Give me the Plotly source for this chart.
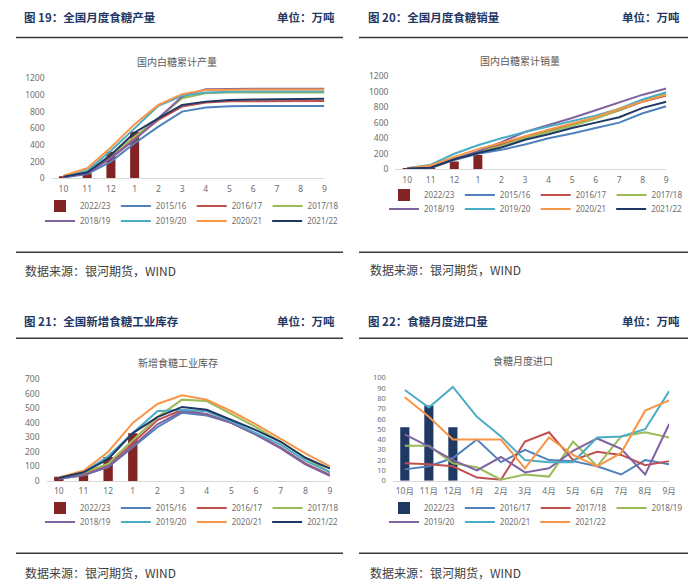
import plotly.graph_objects as go

# ---------------- data ----------------
months = ["10", "11", "12", "1", "2", "3", "4", "5", "6", "7", "8", "9"]
months_cn = ["10月", "11月", "12月", "1月", "2月", "3月", "4月", "5月", "6月", "7月", "8月", "9月"]

seasons = ["2015/16", "2016/17", "2017/18", "2018/19", "2019/20", "2020/21", "2021/22"]
import_seasons = ["2016/17", "2017/18", "2018/19", "2019/20", "2020/21", "2021/22"]
current_season = "2022/23"

# Chart 19: cumulative production (万吨)
prod_2223 = [20, 60, 320, 560]
prod_1516 = [10, 50, 200, 420, 620, 800, 850, 865, 867, 867, 867, 867]
prod_1617 = [15, 60, 250, 480, 700, 860, 910, 925, 928, 929, 929, 929]
prod_1718 = [20, 70, 280, 500, 720, 960, 1020, 1030, 1031, 1031, 1031, 1031]
prod_1819 = [15, 60, 240, 460, 720, 980, 1070, 1076, 1076, 1076, 1076, 1076]
prod_1920 = [25, 90, 330, 600, 870, 990, 1030, 1040, 1041, 1041, 1041, 1041]
prod_2021 = [30, 120, 370, 650, 880, 1010, 1060, 1066, 1067, 1067, 1067, 1067]
prod_2122 = [20, 70, 280, 550, 720, 880, 920, 940, 946, 950, 954, 956]

# Chart 20: cumulative sales (万吨)
sales_2223 = [8, 15, 100, 185]
sales_1516 = [5, 15, 120, 200, 250, 320, 400, 460, 530, 600, 720, 810]
sales_1617 = [10, 30, 130, 230, 330, 420, 500, 580, 660, 760, 870, 950]
sales_1718 = [10, 30, 130, 230, 300, 400, 480, 560, 650, 760, 880, 970]
sales_1819 = [10, 30, 130, 230, 350, 480, 570, 660, 760, 860, 960, 1040]
sales_1920 = [15, 60, 200, 310, 400, 480, 550, 620, 690, 780, 900, 990]
sales_2021 = [15, 50, 160, 260, 340, 430, 510, 590, 670, 780, 870, 960]
sales_2122 = [10, 20, 130, 210, 280, 380, 450, 530, 600, 670, 790, 870]

# Chart 21: new industrial inventory (万吨)
inv_2223 = [30, 40, 165, 328]
inv_1516 = [15, 40, 95, 230, 370, 470, 450, 400, 320, 230, 120, 40]
inv_1617 = [20, 45, 110, 260, 420, 490, 460, 400, 320, 230, 120, 40]
inv_1718 = [20, 55, 120, 280, 440, 560, 550, 460, 370, 270, 160, 60]
inv_1819 = [15, 40, 100, 240, 390, 480, 460, 400, 320, 225, 115, 35]
inv_1920 = [20, 60, 170, 330, 480, 490, 480, 410, 330, 250, 140, 60]
inv_2021 = [25, 70, 200, 400, 530, 590, 560, 480, 390, 290, 190, 100]
inv_2122 = [20, 60, 150, 330, 440, 510, 490, 420, 350, 270, 160, 85]

# Chart 22: monthly imports (万吨)
imp_2223 = [52, 73, 52]
imp_1617 = [11, 14, 22, 40, 18, 30, 20, 19, 14, 6, 20, 16]
imp_1718 = [17, 16, 14, 3, 1, 38, 47, 20, 28, 25, 15, 19]
imp_1819 = [34, 34, 17, 13, 1, 6, 4, 38, 14, 43, 47, 42]
imp_1920 = [45, 33, 20, 10, 23, 8, 12, 29, 41, 31, 6, 55]
imp_2021 = [88, 71, 91, 62, 43, 20, 18, 18, 42, 43, 50, 87]
imp_2122 = [81, 62, 40, 40, 40, 12, 42, 25, 14, 27, 68, 78]

# ---------------- styles ----------------
PAGE_W, PAGE_H = 700, 585
OFF = 8                      # default page body margin of the html page
W, H = PAGE_W - OFF, PAGE_H - OFF
LINE_COLORS = ["#4F81BD", "#C0504D", "#9BBB59", "#8064A2", "#4BACC6", "#F79646", "#1F3864"]
IMP_COLORS = ["#4F81BD", "#C0504D", "#9BBB59", "#8064A2", "#4BACC6", "#F79646"]
BAR_RED = "#822424"
BAR_NAVY = "#1F3864"
TICK_FONT = dict(family="Noto Sans, Noto Sans CJK SC", size=8.5, color="#6E6E6E")
LEG_FONT = dict(family="Noto Sans", size=8, color="#6E6E6E")
HEAD_COLOR = "#1F3864"


def px(x):
    return (x - OFF) / W


def py(y):
    return 1 - (y - OFF) / H


fig = go.Figure()


def add_panel(idx, cats, bar_vals, bar_color, line_sets, line_names, colors, leg_a, leg_b, split):
    xa = "x" if idx == 1 else f"x{idx}"
    ya = "y" if idx == 1 else f"y{idx}"
    fig.add_trace(go.Bar(x=cats[:len(bar_vals)], y=bar_vals, name=current_season,
                         marker=dict(color=bar_color, line=dict(width=0)), width=0.38,
                         xaxis=xa, yaxis=ya, legend=leg_a, hoverinfo="skip"))
    for i, (vals, nm, col) in enumerate(zip(line_sets, line_names, colors)):
        fig.add_trace(go.Scatter(x=cats, y=vals, name=nm, mode="lines",
                                 line=dict(color=col, width=2),
                                 xaxis=xa, yaxis=ya,
                                 legend=leg_a if i < split else leg_b, hoverinfo="skip"))


add_panel(1, months, prod_2223, BAR_RED,
          [prod_1516, prod_1617, prod_1718, prod_1819, prod_1920, prod_2021, prod_2122],
          seasons, LINE_COLORS, "legend", "legend2", 3)
add_panel(2, months, sales_2223, BAR_RED,
          [sales_1516, sales_1617, sales_1718, sales_1819, sales_1920, sales_2021, sales_2122],
          seasons, LINE_COLORS, "legend3", "legend4", 3)
add_panel(3, months, inv_2223, BAR_RED,
          [inv_1516, inv_1617, inv_1718, inv_1819, inv_1920, inv_2021, inv_2122],
          seasons, LINE_COLORS, "legend5", "legend6", 3)
add_panel(4, months_cn, imp_2223, BAR_NAVY,
          [imp_1617, imp_1718, imp_1819, imp_1920, imp_2021, imp_2122],
          import_seasons, IMP_COLORS, "legend7", "legend8", 3)

# ---------------- axes ----------------
panels = {
    1: dict(xd=(51.6, 324.4), yd=(178.3, 78.3), rng=(0, 1200), dt=200, fs=8.5),
    2: dict(xd=(395.4, 666.3), yd=(169.3, 76.0), rng=(0, 1200), dt=200, fs=8.5),
    3: dict(xd=(46.5, 330.0), yd=(481.0, 379.3), rng=(0, 700), dt=100, fs=8.5),
    4: dict(xd=(392.8, 669.2), yd=(480.7, 377.7), rng=(0, 100), dt=10, fs=7.5),
}
layout_axes = {}
for i, p in panels.items():
    sx = "" if i == 1 else str(i)
    layout_axes[f"xaxis{sx}"] = dict(
        domain=[px(p["xd"][0]), px(p["xd"][1])], anchor=f"y{sx}", type="category",
        showline=True, linecolor="#D9D9D9", linewidth=1, showgrid=False, zeroline=False,
        ticks="", tickfont=TICK_FONT, ticklabelstandoff=2, fixedrange=True, automargin=False)
    layout_axes[f"yaxis{sx}"] = dict(
        domain=[py(p["yd"][0]), py(p["yd"][1])], anchor=f"x{sx}", range=list(p["rng"]),
        dtick=p["dt"], showline=False, showgrid=False, zeroline=False, ticks="",
        tickfont=dict(TICK_FONT, size=p["fs"]), ticklabelstandoff=6, fixedrange=True,
        automargin=False)

# ---------------- legends ----------------
def leg(x, y):
    return dict(orientation="h", x=px(x), xanchor="left", y=py(y), yanchor="middle",
                font=LEG_FONT, bgcolor="rgba(0,0,0,0)", borderwidth=0, itemwidth=30,
                traceorder="normal", tracegroupgap=0, itemclick=False, itemdoubleclick=False)

legends = {
    "legend": leg(40, 206), "legend2": leg(40, 221),
    "legend3": leg(384, 195), "legend4": leg(384, 209),
    "legend5": leg(40, 508), "legend6": leg(40, 522),
    "legend7": leg(384, 508), "legend8": leg(384, 522),
}

# ---------------- annotations ----------------
ann = []


def text(x, y, s, size, color, xanchor="left", family="Noto Sans CJK SC", bold=False):
    ann.append(dict(x=px(x), y=py(y), xref="paper", yref="paper", text=f"<b>{s}</b>" if bold else s,
                    showarrow=False, xanchor=xanchor, yanchor="middle",
                    font=dict(family=family, size=size, color=color)))


# header titles
HS = 11.5
text(22, 17, "图 19：全国月度食糖产量", HS, HEAD_COLOR, bold=True)
text(337, 17, "单位：万吨", HS, HEAD_COLOR, xanchor="right", bold=True)
text(366, 17, "图 20：全国月度食糖销量", HS, HEAD_COLOR, bold=True)
text(682, 17, "单位：万吨", HS, HEAD_COLOR, xanchor="right", bold=True)
text(22, 321, "图 21：全国新增食糖工业库存", HS, HEAD_COLOR, bold=True)
text(337, 321, "单位：万吨", HS, HEAD_COLOR, xanchor="right", bold=True)
text(366, 321, "图 22：食糖月度进口量", HS, HEAD_COLOR, bold=True)
text(682, 321, "单位：万吨", HS, HEAD_COLOR, xanchor="right", bold=True)

# chart titles
CS = 10
text(177, 61.5, "国内白糖累计产量", CS, "#595959", xanchor="center")
text(520, 60.5, "国内白糖累计销量", CS, "#595959", xanchor="center")
text(178, 362.5, "新增食糖工业库存", CS, "#595959", xanchor="center")
text(523, 360.5, "食糖月度进口", CS, "#595959", xanchor="center")

# sources
for (sx, sy) in [(23, 271), (368, 270), (23, 572), (368, 572)]:
    text(sx, sy, "数据来源：银河期货，WIND", 12, "#404040")

# ---------------- rule lines ----------------
shapes = []
for (x0, x1, y) in [(16, 343, 37.5), (359, 688, 37.5), (16, 343, 252.3), (359, 688, 252.3),
                    (16, 343, 338.3), (359, 688, 338.3), (16, 343, 553.3), (359, 688, 553.3)]:
    shapes.append(dict(type="line", xref="paper", yref="paper", x0=px(x0), x1=px(x1),
                       y0=py(y), y1=py(y), line=dict(color="#3A3A3A", width=1.6)))

fig.update_layout(
    width=W, height=H, margin=dict(l=0, r=0, t=0, b=0, autoexpand=False),
    paper_bgcolor="white", plot_bgcolor="white",
    showlegend=True, annotations=ann, shapes=shapes,
    barmode="overlay",
    **layout_axes, **legends,
)

fig.write_html("out.html")
